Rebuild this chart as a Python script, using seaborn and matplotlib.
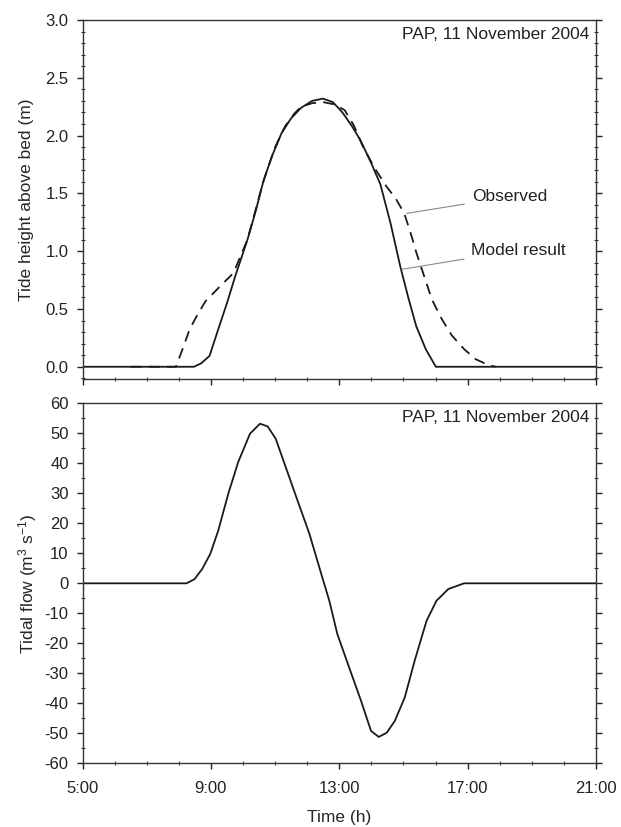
import numpy as np
import pandas as pd
import matplotlib
matplotlib.use("Agg")
import matplotlib.pyplot as plt
from matplotlib.ticker import MultipleLocator, FuncFormatter
import seaborn as sns

# ---- data (hours of day) ----
model_t = [5.0, 8.0, 8.47, 8.7, 8.96, 9.2, 9.5, 9.76, 10.14, 10.4, 10.63, 10.9, 11.2, 11.5,
           11.81, 12.15, 12.49, 12.8, 13.1, 13.4, 13.66, 14.0, 14.28, 14.6, 14.9, 15.15,
           15.4, 15.7, 16.01, 17.0, 21.0]
model_h = [0.0, 0.0, 0.0, 0.03, 0.095, 0.30, 0.55, 0.785, 1.10, 1.35, 1.60, 1.82, 2.02, 2.15,
           2.24, 2.30, 2.32, 2.29, 2.20, 2.08, 1.96, 1.76, 1.58, 1.24, 0.87, 0.60,
           0.35, 0.15, 0.0, 0.0, 0.0]

obs_t = [6.5, 7.35, 7.91, 8.1, 8.34, 8.6, 8.84, 9.30, 9.70, 10.14, 10.63, 11.0, 11.31, 11.6,
         11.81, 12.15, 12.49, 12.85, 13.17, 13.45, 13.73, 14.1, 14.47, 14.75, 15.02, 15.2,
         15.40, 15.65, 15.89, 16.2, 16.51, 16.9, 17.25, 17.6, 17.87]
obs_h = [0.0, 0.0, 0.0, 0.14, 0.325, 0.46, 0.57, 0.70, 0.81, 1.10, 1.60, 1.90, 2.08, 2.19,
         2.25, 2.28, 2.29, 2.27, 2.22, 2.09, 1.91, 1.72, 1.56, 1.46, 1.33, 1.18,
         0.99, 0.78, 0.58, 0.41, 0.27, 0.15, 0.066, 0.02, 0.0]

flow_t = [5.0, 8.0, 8.24, 8.49, 8.73, 8.98, 9.23, 9.54, 9.85, 10.22, 10.53, 10.77, 11.02,
          11.33, 11.70, 12.07, 12.44, 12.69, 12.94, 13.31, 13.68, 13.99, 14.23, 14.48,
          14.73, 15.04, 15.35, 15.72, 16.03, 16.40, 16.89, 21.0]
flow_q = [0.0, 0.0, 0.0, 1.4, 4.8, 9.8, 17.6, 29.8, 40.4, 49.9, 53.2, 52.3, 48.2,
          38.8, 27.6, 16.5, 3.1, -5.8, -16.9, -28.1, -39.2, -49.2, -51.2, -49.8,
          -45.9, -38.1, -25.8, -12.5, -5.8, -1.9, 0.0, 0.0]

xticks = [5, 9, 13, 17, 21]
xticklabels = ["5:00", "9:00", "13:00", "17:00", "21:00"]
title_txt = "PAP, 11 November 2004"

sns.set_style("ticks")
plt.rcParams["font.family"] = ["Liberation Sans", "DejaVu Sans"]
plt.rcParams["axes.unicode_minus"] = False
plt.rcParams["mathtext.fontset"] = "custom"
plt.rcParams["mathtext.rm"] = "Liberation Sans"
plt.rcParams["mathtext.it"] = "Liberation Sans"

fig = plt.figure(figsize=(6.21, 8.27), dpi=100)
ax1 = fig.add_axes([0.1329, 0.5417, 0.8268, 0.4341])
ax2 = fig.add_axes([0.1329, 0.0770, 0.8268, 0.4353])

dfm = pd.DataFrame({"t": model_t, "h": model_h})
dfo = pd.DataFrame({"t": obs_t, "h": obs_h})
dff = pd.DataFrame({"t": flow_t, "q": flow_q})

lc = "#1a1a1a"
sns.lineplot(data=dfm, x="t", y="h", ax=ax1, color=lc, lw=1.3)
sns.lineplot(data=dfo, x="t", y="h", ax=ax1, color=lc, lw=1.3)
ax1.lines[-1].set_dashes([6, 4])
sns.lineplot(data=dff, x="t", y="q", ax=ax2, color=lc, lw=1.3)

fs = 12
for ax in (ax1, ax2):
    ax.set_xlim(5, 21)
    ax.set_xticks(xticks)
    ax.xaxis.set_minor_locator(MultipleLocator(1))
    for s in ax.spines.values():
        s.set_linewidth(1.0)
        s.set_color("#333333")
    ax.tick_params(which="major", direction="out", length=4, width=1, colors="#222222",
                   labelsize=fs, left=True, right=True, bottom=True, top=False)
    ax.tick_params(which="minor", direction="inout", length=2.5, width=0.8, colors="#333333",
                   left=True, right=True, bottom=True, top=False)
    ax.tick_params(axis="y", which="major", pad=6)

ax1.set_ylim(-0.106, 3.0)
ax1.set_yticks([0.0, 0.5, 1.0, 1.5, 2.0, 2.5, 3.0])
ax1.yaxis.set_major_formatter(FuncFormatter(lambda v, p: f"{v:.1f}"))
ax1.yaxis.set_minor_locator(MultipleLocator(0.1))
ax1.set_xticklabels([])
ax1.set_xlabel("")
ax1.set_ylabel("Tide height above bed (m)", fontsize=12.5, labelpad=8)

ax2.set_ylim(-60, 60)
ax2.set_yticks(range(-60, 61, 10))
ax2.yaxis.set_minor_locator(MultipleLocator(5))
ax2.set_xticklabels(xticklabels)
ax2.tick_params(axis="x", which="major", pad=9)
ax2.set_xlabel("Time (h)", fontsize=12.5, labelpad=10)
ax2.set_ylabel(r"Tidal flow (m$^{3}$ s$^{-1}$)", fontsize=12.5, labelpad=4)

for ax in (ax1, ax2):
    ax.text(0.988, 0.96, title_txt, transform=ax.transAxes, ha="right", va="center",
            fontsize=12.5, color="#222222")

ax1.annotate("Observed", xy=(15.10, 1.327), xytext=(17.13, 1.47),
             fontsize=12.5, va="center", ha="left", color="#222222",
             arrowprops=dict(arrowstyle="-", color="#888888", lw=0.8,
                             shrinkA=3, shrinkB=0))
ax1.annotate("Model result", xy=(14.95, 0.843), xytext=(17.12, 1.01),
             fontsize=12.5, va="center", ha="left", color="#222222",
             arrowprops=dict(arrowstyle="-", color="#888888", lw=0.8,
                             shrinkA=3, shrinkB=0))

fig.savefig("out.png", dpi=100)
